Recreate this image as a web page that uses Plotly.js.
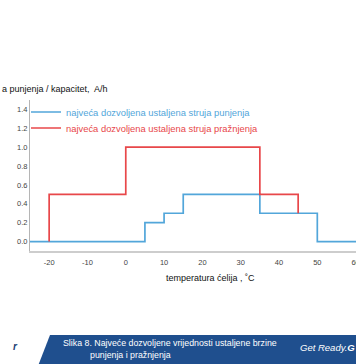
<!DOCTYPE html>
<html>
<head>
<meta charset="utf-8">
<script src="https://cdn.plot.ly/plotly-3.0.1.min.js"></script>
<style>html,body{margin:0;padding:0;overflow:hidden;background:#fff}</style>
</head>
<body>
<div id="chart" style="width:356px;height:364px"></div>
<script>
// ---- data ----
var chargeTemp = [-25, 5, 10, 15, 35, 50, 60.1];
var chargeRate = [0, 0.2, 0.3, 0.5, 0.3, 0, 0];
var dischargeTemp = [-20, -20, 0, 35, 45];
var dischargeRate = [0, 0.5, 1.0, 0.5, 0.3];
var xTicks = [-20, -10, 0, 10, 20, 30, 40, 50, 60];
var yTicks = [0, 0.2, 0.4, 0.6, 0.8, 1.0, 1.2, 1.4];
var yTickText = ['0.0', '0.2', '0.4', '0.6', '0.8', '1.0', '1.2', '1.4'];
var chargeName = 'najveća dozvoljena ustaljena struja punjenja';
var dischargeName = 'najveća dozvoljena ustaljena struja pražnjenja';
var xTitle = 'temperatura ćelija , ˚C';
var yTitle = 'a punjenja / kapacitet,  A/h';
var caption1 = 'Slika 8. Najveće dozvoljene vrijednosti ustaljene brzine';
var caption2 = 'punjenja i pražnjenja';
var slogan = 'Get Ready.<b>G</b>';

var BLUE = '#52a6da', RED = '#e8474a', BANNER = '#1f4f8e';
var W = 356, H = 364, L = 30, R = 0, T = 100, B = 113;
var pw = W - L - R, ph = H - T - B;
function px(x) { return (x - L) / pw; }
function py(y) { return (H - B - y) / ph; }

var traces = [
  {x: chargeTemp, y: chargeRate, type: 'scatter', mode: 'lines', name: '<span style="color:' + BLUE + '">' + chargeName + '</span>',
   line: {color: BLUE, width: 1.7, shape: 'hv'}, legend: 'legend'},
  {x: dischargeTemp, y: dischargeRate, type: 'scatter', mode: 'lines', name: '<span style="color:' + RED + '">' + dischargeName + '</span>',
   line: {color: RED, width: 1.7, shape: 'hv'}, legend: 'legend2'}
];

var fontFam = '"Liberation Sans", Arial, sans-serif';

var layout = {
  width: W, height: H,
  margin: {l: L, r: R, t: T, b: B, pad: 0},
  paper_bgcolor: '#fff', plot_bgcolor: '#fff',
  font: {family: fontFam},
  showlegend: true,
  legend: {x: px(26), y: py(112), xanchor: 'left', yanchor: 'middle', bgcolor: 'rgba(0,0,0,0)', borderwidth: 0, font: {family: fontFam, size: 9.4, color: BLUE}, itemclick: false},
  legend2: {x: px(26), y: py(128), xanchor: 'left', yanchor: 'middle', bgcolor: 'rgba(0,0,0,0)', borderwidth: 0, font: {family: fontFam, size: 9.4, color: RED}, itemclick: false},
  xaxis: {range: [-25, 60.1], tickvals: xTicks, ticktext: xTicks.map(String), showgrid: false, zeroline: false,
          showline: true, linecolor: '#cdcdcd', linewidth: 2, ticks: '', ticklabelstandoff: 3, ticklabeloverflow: 'allow',
          tickfont: {family: fontFam, size: 7.5, color: '#444'}, fixedrange: true},
  yaxis: {range: [-0.1, 1.5], tickvals: yTicks, ticktext: yTickText, showgrid: false, zeroline: false,
          showline: true, linecolor: '#b5b5b5', linewidth: 1, ticks: '', tickfont: {family: fontFam, size: 7.5, color: '#444'}, fixedrange: true},
  shapes: [
    {type: 'path', xref: 'paper', yref: 'paper',
     path: 'M' + px(50) + ',' + py(335) + ' L' + px(360) + ',' + py(335) + ' L' + px(360) + ',' + py(366) + ' L' + px(38) + ',' + py(366) + ' Z',
     fillcolor: BANNER, line: {width: 0}, layer: 'above'}
  ],
  annotations: [
    {xref: 'paper', yref: 'paper', x: px(0), y: py(89), xanchor: 'left', yanchor: 'middle', showarrow: false,
     text: yTitle, font: {family: fontFam, size: 9, color: '#111'}},
    {xref: 'paper', yref: 'paper', x: px(210), y: py(278), xanchor: 'center', yanchor: 'middle', showarrow: false,
     text: xTitle, font: {family: fontFam, size: 9, color: '#111'}},
    {xref: 'paper', yref: 'paper', x: px(61), y: py(342.5), xanchor: 'left', yanchor: 'middle', showarrow: false,
     text: caption1, font: {family: fontFam, size: 8.8, color: '#fff'}},
    {xref: 'paper', yref: 'paper', x: px(88), y: py(355), xanchor: 'left', yanchor: 'middle', showarrow: false,
     text: caption2, font: {family: fontFam, size: 8.8, color: '#fff'}},
    {xref: 'paper', yref: 'paper', x: px(357), y: py(347), xanchor: 'right', yanchor: 'middle', showarrow: false,
     text: '<i>' + slogan + '</i>', font: {family: fontFam, size: 9.5, color: '#fff'}},
    {xref: 'paper', yref: 'paper', x: px(11), y: py(346), xanchor: 'left', yanchor: 'middle', showarrow: false,
     text: '<i><b>r</b></i>', font: {family: fontFam, size: 10, color: '#1b3e74'}}
  ]
};

Plotly.newPlot('chart', traces, layout, {displayModeBar: false, staticPlot: true});
</script>
</body>
</html>
